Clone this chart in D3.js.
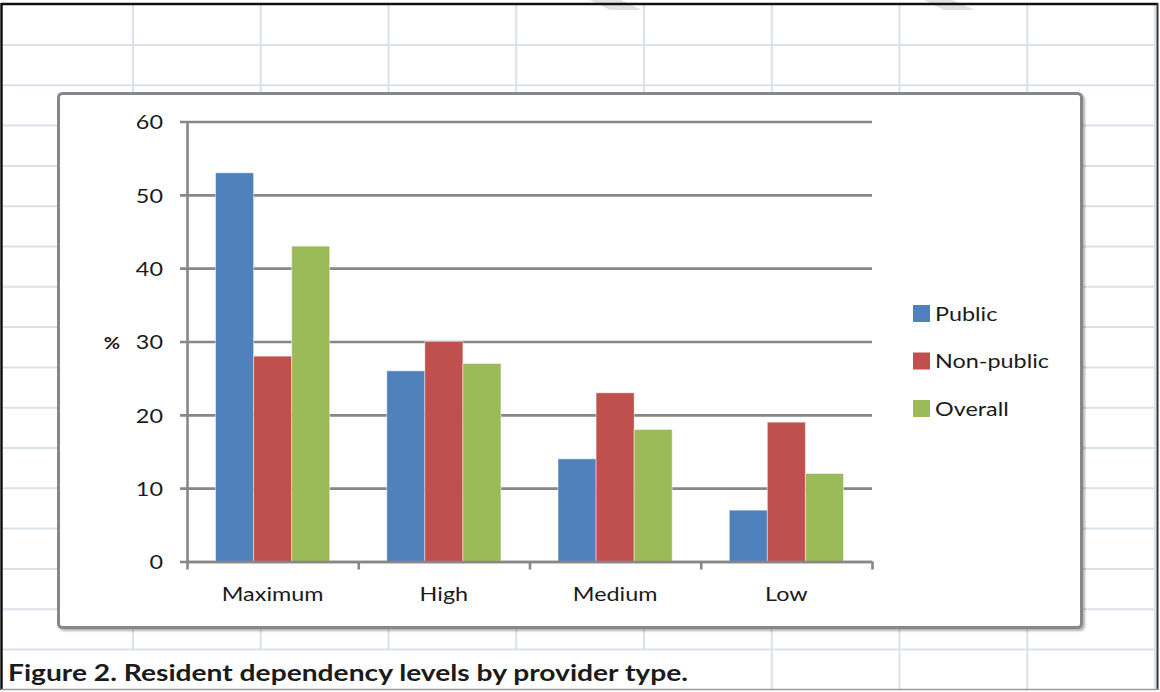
<!DOCTYPE html>
<html>
<head>
<meta charset="utf-8">
<script src="https://cdn.jsdelivr.net/npm/d3@7"></script>
<style>
  html, body { margin: 0; padding: 0; background: #ffffff; }
  svg { display: block; }
  text { font-family: Lato, "Open Sans", "Liberation Sans", sans-serif; fill: #1b1b1b; }
</style>
</head>
<body>
<svg id="chart" width="1160" height="692"></svg>
<script>
// ---- data ----
const categories = ["Maximum", "High", "Medium", "Low"];
const seriesNames = ["Public", "Non-public", "Overall"];
const publicValues = [53, 26, 14, 7];
const nonPublicValues = [28, 30, 23, 19];
const overallValues = [43, 27, 18, 12];
const yTickValues = [0, 10, 20, 30, 40, 50, 60];
const yAxisLabel = "%";
const captionText = "Figure 2. Resident dependency levels by provider type.";

const seriesValues = [publicValues, nonPublicValues, overallValues];
const seriesColors = ["#4f81bd", "#c0504d", "#9bbb59"];

// ---- layout ----
const W = 1160, H = 692;
const svg = d3.select("#chart");
const TEXT_STRETCH = 1.17;   // horizontal stretch of chart lettering

// stretch each text horizontally around its own anchor point
function stretch(sel, k) {
  sel.each(function () {
    const t = d3.select(this);
    const x = +t.attr("x") || 0, y = +t.attr("y") || 0;
    t.attr("transform", `translate(${x},${y}) scale(${k},1) translate(${-x},${-y})`);
  });
}

// ---- worksheet background ----
const sheet = svg.append("g");
const colX = d3.range(9).map(i => 133 + i * 127.75);
const rowY = d3.range(16).map(i => 45 + i * 40.3);
sheet.selectAll("line.row").data(rowY).join("line")
  .attr("x1", 3).attr("x2", 1156).attr("y1", d => d).attr("y2", d => d)
  .attr("stroke", "#dbe1ea").attr("stroke-width", 2);
// columns: hidden under the overflowing caption in the last row
sheet.selectAll("line.col").data(colX).join("line")
  .attr("x1", d => d).attr("x2", d => d)
  .attr("y1", 5).attr("y2", d => d < 700 ? 650 : 689)
  .attr("stroke", "#dbe1ea").attr("stroke-width", 2);

// faint shapes along the top edge
sheet.append("polygon").attr("points", "590,0 621,0 642,10 610,10").attr("fill", "#e2e2e2");
sheet.append("polygon").attr("points", "924,0 952,0 975,10 944,10").attr("fill", "#e2e2e2");

// outer frame of the sheet
sheet.append("line").attr("x1", 1).attr("x2", 1158).attr("y1", 4).attr("y2", 4).attr("stroke", "#111").attr("stroke-width", 2.5);
sheet.append("line").attr("x1", 1.5).attr("x2", 1.5).attr("y1", 3).attr("y2", 690).attr("stroke", "#111").attr("stroke-width", 2.5);
sheet.append("line").attr("x1", 1157.5).attr("x2", 1157.5).attr("y1", 3).attr("y2", 690).attr("stroke", "#333").attr("stroke-width", 2);
sheet.append("line").attr("x1", 1).attr("x2", 1158).attr("y1", 689.5).attr("y2", 689.5).attr("stroke", "#9a9a9a").attr("stroke-width", 1.5);

// caption
svg.append("text")
  .attr("x", 8).attr("y", 681)
  .attr("font-size", 23).attr("font-weight", 700)
  .attr("textLength", 680).attr("lengthAdjust", "spacingAndGlyphs")
  .text(captionText);

// ---- chart area frame ----
const defs = svg.append("defs");
const f = defs.append("filter").attr("id", "shadow").attr("x", "-5%").attr("y", "-5%").attr("width", "110%").attr("height", "110%");
f.append("feDropShadow").attr("dx", 2).attr("dy", 2).attr("stdDeviation", 1).attr("flood-color", "#000").attr("flood-opacity", 0.3);

svg.append("rect")
  .attr("x", 58.5).attr("y", 93.5).attr("width", 1023).attr("height", 534)
  .attr("rx", 4).attr("fill", "#ffffff")
  .attr("stroke", "#878787").attr("stroke-width", 3)
  .attr("filter", "url(#shadow)");

// ---- plot ----
const plot = { left: 187, right: 872, top: 121.5, bottom: 561.5 };

const x0 = d3.scaleBand().domain(categories).range([plot.left, plot.right]).padding(0);
const bw = x0.bandwidth();
const x1 = d3.scaleBand().domain(seriesNames).range([bw / 6, bw * 5 / 6]).padding(0);
const y = d3.scaleLinear().domain([0, 60]).range([plot.bottom, plot.top]);

// horizontal gridlines + y tick labels
const gridG = svg.append("g")
  .attr("transform", `translate(${plot.left - 7},0)`)
  .call(d3.axisLeft(y).tickValues(yTickValues)
    .tickSize(-(plot.right - plot.left + 7)).tickSizeOuter(0).tickPadding(17));
gridG.select(".domain").remove();
gridG.selectAll(".tick line").attr("stroke", "#878787").attr("stroke-width", 2.6);
gridG.selectAll(".tick text").attr("font-size", 20).attr("dy", "0.36em").attr("fill", "#1b1b1b")
  .attr("font-family", null);
stretch(gridG.selectAll(".tick text"), TEXT_STRETCH);

// bars
const groups = svg.append("g").selectAll("g").data(categories).join("g")
  .attr("transform", d => `translate(${x0(d)},0)`);
groups.selectAll("rect")
  .data((c, i) => seriesNames.map((s, j) => ({ s, j, v: seriesValues[j][i] })))
  .join("rect")
  .attr("x", d => x1(d.s))
  .attr("width", x1.bandwidth())
  .attr("y", d => y(d.v))
  .attr("height", d => y(0) - y(d.v))
  .attr("fill", d => seriesColors[d.j])
  .attr("stroke", "rgba(255,255,255,0.45)").attr("stroke-width", 1);

// y axis line
const yAxisG = svg.append("g")
  .attr("transform", `translate(${plot.left},0)`)
  .call(d3.axisLeft(y).tickValues([]).tickSizeOuter(0));
yAxisG.select(".domain").attr("stroke", "#878787").attr("stroke-width", 2.6);

// x axis: boundary ticks
const xEdges = d3.scaleLinear().domain([0, categories.length]).range([plot.left, plot.right]);
const xTickG = svg.append("g")
  .attr("transform", `translate(0,${plot.bottom})`)
  .call(d3.axisBottom(xEdges).tickValues(d3.range(categories.length + 1)).tickFormat("").tickSize(8).tickSizeOuter(0));
xTickG.select(".domain").attr("stroke", "#878787").attr("stroke-width", 2.6);
xTickG.selectAll(".tick line").attr("stroke", "#878787").attr("stroke-width", 2.6);

// x category labels
const xLabG = svg.append("g")
  .attr("transform", `translate(0,${plot.bottom})`)
  .call(d3.axisBottom(x0).tickSize(0).tickPadding(25));
xLabG.select(".domain").remove();
xLabG.selectAll(".tick text").attr("font-size", 20).attr("fill", "#1b1b1b").attr("font-family", null);
stretch(xLabG.selectAll(".tick text"), TEXT_STRETCH);

// y axis title
const yTitle = svg.append("text")
  .attr("x", 112).attr("y", 343).attr("dy", "0.36em")
  .attr("text-anchor", "middle").attr("font-size", 17).attr("font-weight", 700)
  .text(yAxisLabel);
stretch(yTitle, TEXT_STRETCH);

// legend
const legend = svg.append("g").selectAll("g").data(seriesNames).join("g")
  .attr("transform", (d, i) => `translate(913,${305 + i * 47.5})`);
legend.append("rect").attr("width", 17).attr("height", 17)
  .attr("fill", (d, i) => seriesColors[i]);
const legText = legend.append("text")
  .attr("x", 22).attr("y", 8.5).attr("dy", "0.36em")
  .attr("font-size", 20)
  .text(d => d);
stretch(legText, TEXT_STRETCH);
</script>
</body>
</html>
